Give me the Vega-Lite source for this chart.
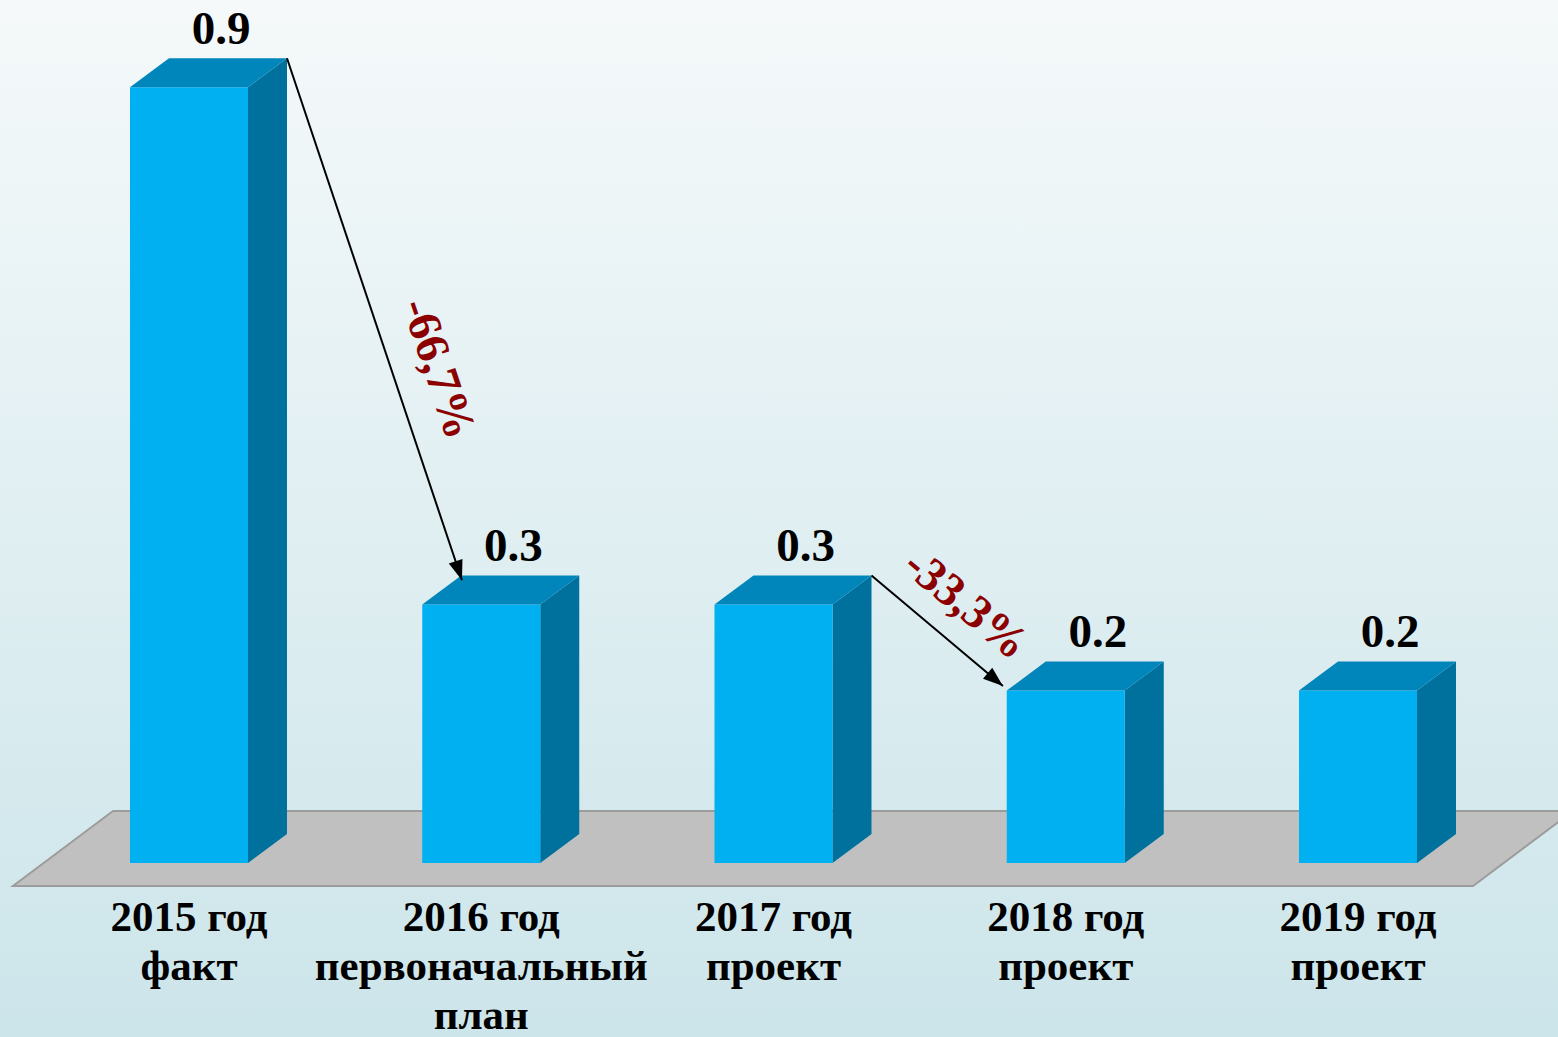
{
  "$schema": "https://vega.github.io/schema/vega-lite/v6.json",
  "width": 1558,
  "height": 1037,
  "padding": 0,
  "autosize": {"type": "none"},
  "background": "#e2f0f2",
  "config": {"view": {"stroke": null}},
  "datasets": {
    "bars": [
      {"cat": "2015 год\nфакт", "value": 0.9},
      {"cat": "2016 год\nпервоначальный\nплан", "value": 0.3},
      {"cat": "2017 год\nпроект", "value": 0.3},
      {"cat": "2018 год\nпроект", "value": 0.2},
      {"cat": "2019 год\nпроект", "value": 0.2}
    ],
    "floor": [
      {"fy": -0.02668, "fx": -0.6022, "fx2": 4.3935},
      {"fy": 0.06032, "fx": -0.26, "fx2": 4.7357}
    ],
    "arrows": [
      {"label": "-66,7%", "x": 0.3353, "y": 0.9336, "x2": 0.934, "y2": 0.328, "lx": 0.8516, "ly": 0.5731},
      {"label": "-33,3%", "x": 2.3353, "y": 0.3336, "x2": 2.785, "y2": 0.2053, "lx": 2.658, "ly": 0.2995}
    ]
  },
  "layer": [
    {
      "data": {"values": [{"panel": "bg"}]},
      "transform": [
        {"calculate": "-0.6467", "as": "bx"},
        {"calculate": "4.6843", "as": "bx2"},
        {"calculate": "-0.20186", "as": "by"},
        {"calculate": "1.00116", "as": "by2"}
      ],
      "mark": {"type": "rect", "fill": {"gradient": "linear", "x1": 0, "y1": 0, "x2": 0, "y2": 1, "stops": [{"offset": 0, "color": "#f5f9fa"}, {"offset": 1, "color": "#cce5ea"}]}},
      "encoding": {
        "x": {"field": "bx", "type": "quantitative", "scale": {"domain": [-0.6467, 4.6843], "nice": false, "zero": false}, "axis": null},
        "x2": {"field": "bx2"},
        "y": {"field": "by", "type": "quantitative", "scale": {"domain": [-0.20186, 1.00116], "nice": false, "zero": false}, "axis": null},
        "y2": {"field": "by2"}
      }
    },
    {
      "data": {"name": "floor"},
      "mark": {"type": "area", "orient": "horizontal", "fill": "#c0c0c0", "stroke": "#9c9c9c", "strokeWidth": 2, "clip": true},
      "encoding": {
        "y": {"field": "fy", "type": "quantitative", "scale": {"domain": [-0.20186, 1.00116], "nice": false, "zero": false}, "axis": null},
        "x": {"field": "fx", "type": "quantitative", "stack": null, "scale": {"domain": [-0.6467, 4.6843], "nice": false, "zero": false}, "axis": null},
        "x2": {"field": "fx2"}
      }
    },
    {
      "data": {"name": "bars"},
      "transform": [
        {"window": [{"op": "row_number", "as": "n"}]},
        {"calculate": "datum.n - 1", "as": "i"},
        {"fold": ["value", "i"], "as": ["corner", "cv"]},
        {"calculate": "datum.corner === 'value' ? 0 : 1", "as": "k"},
        {"calculate": "datum.i + 0.2019 + datum.k * 0.1334", "as": "sx"},
        {"calculate": "datum.value + datum.k * 0.03364", "as": "sy"},
        {"calculate": "datum.k * 0.03364", "as": "sy2"}
      ],
      "mark": {"type": "area", "orient": "vertical", "fill": "#00719c"},
      "encoding": {
        "x": {"field": "sx", "type": "quantitative", "scale": {"domain": [-0.6467, 4.6843], "nice": false, "zero": false}, "axis": null},
        "y": {"field": "sy", "type": "quantitative", "stack": null, "scale": {"domain": [-0.20186, 1.00116], "nice": false, "zero": false}, "axis": null},
        "y2": {"field": "sy2"},
        "detail": {"field": "i", "type": "nominal"}
      }
    },
    {
      "data": {"name": "bars"},
      "transform": [
        {"window": [{"op": "row_number", "as": "n"}]},
        {"calculate": "datum.n - 1", "as": "i"},
        {"calculate": "datum.i - 0.2019", "as": "xl"},
        {"calculate": "datum.i + 0.2019", "as": "xr"},
        {"calculate": "0", "as": "base"}
      ],
      "mark": {"type": "rect", "fill": "#00b0f0"},
      "encoding": {
        "x": {"field": "xl", "type": "quantitative", "scale": {"domain": [-0.6467, 4.6843], "nice": false, "zero": false}, "axis": null},
        "x2": {"field": "xr"},
        "y": {"field": "base", "type": "quantitative", "scale": {"domain": [-0.20186, 1.00116], "nice": false, "zero": false}, "axis": null},
        "y2": {"field": "value"}
      }
    },
    {
      "data": {"name": "bars"},
      "transform": [
        {"window": [{"op": "row_number", "as": "n"}]},
        {"calculate": "datum.n - 1", "as": "i"},
        {"fold": ["value", "i"], "as": ["corner", "cv"]},
        {"calculate": "datum.corner === 'value' ? 0 : 1", "as": "k"},
        {"calculate": "datum.value + datum.k * 0.03364", "as": "ty"},
        {"calculate": "datum.i - 0.2019 + datum.k * 0.1334", "as": "tx"},
        {"calculate": "datum.i + 0.2019 + datum.k * 0.1334", "as": "tx2"}
      ],
      "mark": {"type": "area", "orient": "horizontal", "fill": "#0086ba"},
      "encoding": {
        "y": {"field": "ty", "type": "quantitative", "scale": {"domain": [-0.20186, 1.00116], "nice": false, "zero": false}, "axis": null},
        "x": {"field": "tx", "type": "quantitative", "stack": null, "scale": {"domain": [-0.6467, 4.6843], "nice": false, "zero": false}, "axis": null},
        "x2": {"field": "tx2"},
        "detail": {"field": "i", "type": "nominal"}
      }
    },
    {
      "data": {"name": "bars"},
      "transform": [
        {"window": [{"op": "row_number", "as": "n"}]},
        {"calculate": "datum.n - 1 + 0.11", "as": "lx"},
        {"calculate": "datum.value + 0.05", "as": "ly"}
      ],
      "mark": {"type": "text", "font": "Liberation Serif", "fontWeight": "bold", "fontSize": 47, "color": "#000000", "align": "center", "baseline": "alphabetic"},
      "encoding": {
        "x": {"field": "lx", "type": "quantitative", "scale": {"domain": [-0.6467, 4.6843], "nice": false, "zero": false}, "axis": null},
        "y": {"field": "ly", "type": "quantitative", "scale": {"domain": [-0.20186, 1.00116], "nice": false, "zero": false}, "axis": null},
        "text": {"field": "value", "type": "quantitative", "format": ".1f"}
      }
    },
    {
      "data": {"name": "bars"},
      "transform": [
        {"window": [{"op": "row_number", "as": "n"}]},
        {"calculate": "datum.n - 1", "as": "i"},
        {"calculate": "-0.0789", "as": "cy"}
      ],
      "mark": {"type": "text", "font": "Liberation Serif", "fontWeight": "bold", "fontSize": 43, "lineHeight": 49, "lineBreak": "\n", "color": "#000000", "align": "center", "baseline": "alphabetic"},
      "encoding": {
        "x": {"field": "i", "type": "quantitative", "scale": {"domain": [-0.6467, 4.6843], "nice": false, "zero": false}, "axis": null},
        "y": {"field": "cy", "type": "quantitative", "scale": {"domain": [-0.20186, 1.00116], "nice": false, "zero": false}, "axis": null},
        "text": {"field": "cat", "type": "nominal"}
      }
    },
    {
      "data": {"name": "arrows"},
      "mark": {"type": "rule", "color": "#000000", "strokeWidth": 2},
      "encoding": {
        "x": {"field": "x", "type": "quantitative", "scale": {"domain": [-0.6467, 4.6843], "nice": false, "zero": false}, "axis": null},
        "y": {"field": "y", "type": "quantitative", "scale": {"domain": [-0.20186, 1.00116], "nice": false, "zero": false}, "axis": null},
        "x2": {"field": "x2"},
        "y2": {"field": "y2"}
      }
    },
    {
      "data": {"name": "arrows"},
      "transform": [{"filter": "datum.label === '-66,7%'"}],
      "mark": {"type": "point", "shape": "M0,0L-0.36,1L0.36,1Z", "size": 1600, "angle": 161.5, "filled": true, "color": "#000000", "opacity": 1, "strokeWidth": 0},
      "encoding": {
        "x": {"field": "x2", "type": "quantitative", "scale": {"domain": [-0.6467, 4.6843], "nice": false, "zero": false}, "axis": null},
        "y": {"field": "y2", "type": "quantitative", "scale": {"domain": [-0.20186, 1.00116], "nice": false, "zero": false}, "axis": null}
      }
    },
    {
      "data": {"name": "arrows"},
      "transform": [{"filter": "datum.label === '-33,3%'"}],
      "mark": {"type": "point", "shape": "M0,0L-0.36,1L0.36,1Z", "size": 1600, "angle": 130.1, "filled": true, "color": "#000000", "opacity": 1, "strokeWidth": 0},
      "encoding": {
        "x": {"field": "x2", "type": "quantitative", "scale": {"domain": [-0.6467, 4.6843], "nice": false, "zero": false}, "axis": null},
        "y": {"field": "y2", "type": "quantitative", "scale": {"domain": [-0.20186, 1.00116], "nice": false, "zero": false}, "axis": null}
      }
    },
    {
      "data": {"name": "arrows"},
      "transform": [{"filter": "datum.label === '-66,7%'"}],
      "mark": {"type": "text", "font": "Liberation Serif", "fontWeight": "bold", "fontSize": 47, "color": "#8b0000", "align": "center", "baseline": "middle", "angle": 71.5},
      "encoding": {
        "x": {"field": "lx", "type": "quantitative", "scale": {"domain": [-0.6467, 4.6843], "nice": false, "zero": false}, "axis": null},
        "y": {"field": "ly", "type": "quantitative", "scale": {"domain": [-0.20186, 1.00116], "nice": false, "zero": false}, "axis": null},
        "text": {"field": "label", "type": "nominal"}
      }
    },
    {
      "data": {"name": "arrows"},
      "transform": [{"filter": "datum.label === '-33,3%'"}],
      "mark": {"type": "text", "font": "Liberation Serif", "fontWeight": "bold", "fontSize": 47, "color": "#8b0000", "align": "center", "baseline": "middle", "angle": 39.6},
      "encoding": {
        "x": {"field": "lx", "type": "quantitative", "scale": {"domain": [-0.6467, 4.6843], "nice": false, "zero": false}, "axis": null},
        "y": {"field": "ly", "type": "quantitative", "scale": {"domain": [-0.20186, 1.00116], "nice": false, "zero": false}, "axis": null},
        "text": {"field": "label", "type": "nominal"}
      }
    }
  ]
}
